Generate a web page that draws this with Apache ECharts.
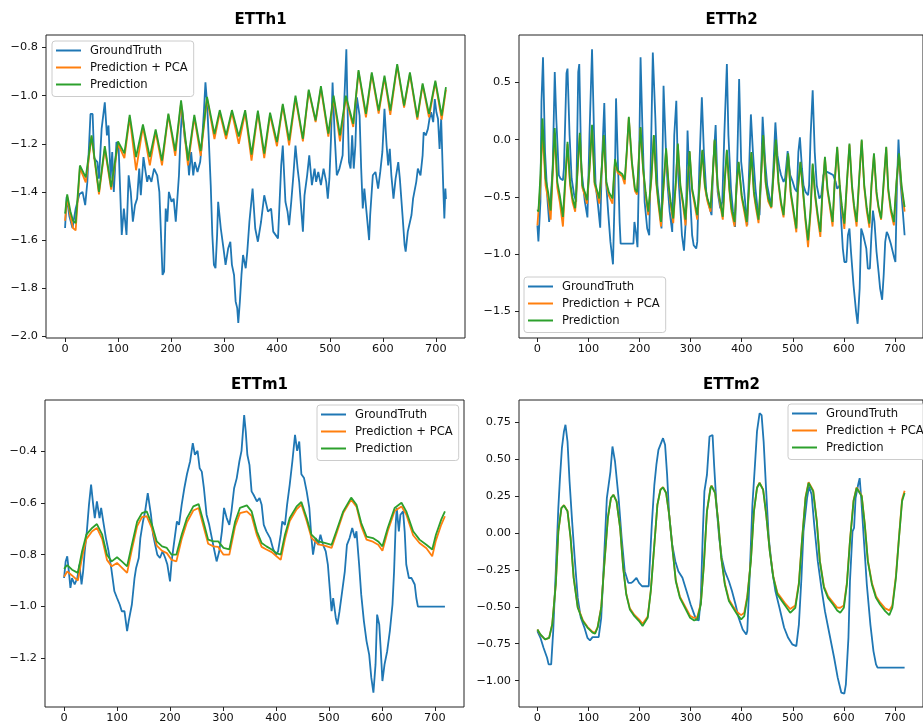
<!DOCTYPE html>
<html><head><meta charset="utf-8">
<script src="https://cdn.jsdelivr.net/npm/echarts@6/dist/echarts.min.js"></script>
<style>html,body{margin:0;padding:0;background:#fff}#c{width:923px;height:727px}</style>
</head><body><div id="c"></div><script>
const seriesNames = ['GroundTruth', 'Prediction + PCA', 'Prediction'];
const panelTitles = ['ETTh1', 'ETTh2', 'ETTm1', 'ETTm2'];
const xTicks = [0, 100, 200, 300, 400, 500, 600, 700];
const h1YTicks = [-2.0, -1.8, -1.6, -1.4, -1.2, -1.0, -0.8];
const h2YTicks = [-1.5, -1.0, -0.5, 0.0, 0.5];
const m1YTicks = [-1.2, -1.0, -0.8, -0.6, -0.4];
const m2YTicks = [-1.0, -0.75, -0.5, -0.25, 0.0, 0.25, 0.5, 0.75];

// ---------- ETTh1 ----------
const h1Truth = [[0,-1.55],[3,-1.42],[8,-1.50],[14,-1.55],[20,-1.47],[27,-1.41],[33,-1.40],[38,-1.455],[42,-1.36],[48,-1.076],[52,-1.076],[55,-1.26],[61,-1.276],[64,-1.345],[69,-1.138],[75,-1.028],[79,-1.165],[82,-1.124],[86,-1.345],[89,-1.234],[92,-1.40],[97,-1.193],[101,-1.207],[103,-1.331],[107,-1.579],[111,-1.469],[116,-1.579],[120,-1.331],[124,-1.40],[128,-1.524],[132,-1.455],[136,-1.428],[140,-1.303],[143,-1.414],[148,-1.255],[152,-1.317],[155,-1.358],[158,-1.331],[163,-1.358],[168,-1.303],[174,-1.331],[178,-1.40],[184,-1.745],[187,-1.731],[190,-1.469],[193,-1.524],[196,-1.40],[201,-1.441],[205,-1.428],[209,-1.524],[212,-1.524],[215,-1.331],[218,-1.165],[221,-1.055],[226,-1.179],[231,-1.234],[234,-1.331],[238,-1.234],[242,-1.331],[245,-1.276],[250,-1.317],[255,-1.276],[258,-1.207],[262,-1.069],[265,-0.945],[268,-1.028],[271,-1.165],[275,-1.372],[278,-1.579],[281,-1.703],[284,-1.717],[287,-1.579],[289,-1.441],[294,-1.552],[299,-1.634],[303,-1.703],[308,-1.634],[312,-1.607],[315,-1.703],[319,-1.745],[322,-1.855],[325,-1.883],[327,-1.944],[330,-1.855],[333,-1.745],[336,-1.662],[341,-1.717],[344,-1.648],[348,-1.524],[354,-1.386],[359,-1.552],[364,-1.607],[370,-1.524],[376,-1.414],[383,-1.482],[389,-1.469],[393,-1.565],[402,-1.593],[405,-1.441],[408,-1.29],[411,-1.207],[416,-1.441],[420,-1.482],[423,-1.538],[427,-1.441],[431,-1.331],[435,-1.207],[439,-1.303],[442,-1.358],[449,-1.565],[452,-1.414],[457,-1.331],[461,-1.248],[466,-1.372],[471,-1.303],[474,-1.358],[478,-1.317],[483,-1.372],[488,-1.303],[493,-1.358],[496,-1.428],[499,-1.345],[502,-1.179],[505,-0.945],[509,-1.165],[513,-1.331],[518,-1.303],[524,-1.248],[527,-1.028],[531,-0.807],[533,-1.028],[536,-1.276],[539,-1.303],[542,-1.165],[545,-1.303],[548,-1.207],[551,-1.007],[556,-1.083],[559,-1.303],[562,-1.469],[565,-1.386],[569,-1.482],[574,-1.60],[576,-1.496],[581,-1.331],[586,-1.317],[591,-1.386],[595,-1.317],[599,-1.234],[603,-1.055],[607,-1.207],[610,-1.29],[613,-1.221],[616,-1.331],[620,-1.428],[624,-1.345],[629,-1.276],[632,-1.345],[637,-1.496],[641,-1.621],[643,-1.648],[647,-1.565],[654,-1.496],[657,-1.428],[663,-1.358],[666,-1.303],[671,-1.331],[675,-1.248],[677,-1.152],[681,-1.165],[685,-1.138],[688,-1.096],[691,-1.069],[695,-1.11],[698,-1.014],[701,-1.069],[704,-1.096],[707,-1.221],[710,-1.096],[714,-1.386],[716,-1.51],[718,-1.386],[719,-1.43]];
const h1PCA = [[0,-1.52],[4,-1.42],[10,-1.50],[15,-1.55],[20,-1.56],[28,-1.30],[39,-1.36],[50,-1.17],[64,-1.41],[75,-1.22],[87,-1.39],[100,-1.20],[112,-1.26],[122,-1.09],[134,-1.31],[147,-1.13],[160,-1.29],[171,-1.15],[183,-1.29],[195,-1.08],[208,-1.25],[219,-1.03],[232,-1.29],[244,-1.09],[256,-1.25],[268,-1.01],[282,-1.18],[292,-1.07],[304,-1.18],[315,-1.07],[328,-1.20],[340,-1.07],[352,-1.27],[364,-1.07],[376,-1.26],[387,-1.08],[400,-1.21],[411,-1.04],[423,-1.207],[435,-1.01],[449,-1.19],[460,-0.98],[473,-1.11],[483,-0.97],[497,-1.17],[507,-1.01],[519,-1.19],[530,-1.01],[544,-1.13],[554,-0.90],[568,-1.09],[579,-0.91],[592,-1.075],[603,-0.925],[614,-1.08],[627,-0.875],[640,-1.05],[651,-0.91],[665,-1.10],[675,-0.955],[687,-1.09],[699,-0.945],[711,-1.10],[719,-0.975]];
const h1Pred = [[0,-1.49],[4,-1.41],[10,-1.48],[15,-1.52],[20,-1.53],[28,-1.29],[39,-1.34],[50,-1.165],[64,-1.40],[75,-1.21],[87,-1.38],[100,-1.19],[112,-1.24],[122,-1.08],[134,-1.255],[147,-1.12],[160,-1.255],[171,-1.14],[183,-1.27],[195,-1.075],[208,-1.23],[219,-1.02],[232,-1.27],[244,-1.08],[256,-1.23],[268,-1.005],[282,-1.16],[292,-1.06],[304,-1.165],[315,-1.06],[328,-1.17],[340,-1.06],[352,-1.245],[364,-1.062],[376,-1.241],[387,-1.071],[400,-1.193],[411,-1.034],[423,-1.186],[435,-1.0],[449,-1.179],[460,-0.975],[473,-1.103],[483,-0.961],[497,-1.158],[507,-1.0],[519,-1.165],[530,-1.0],[544,-1.117],[554,-0.894],[568,-1.076],[579,-0.903],[592,-1.062],[603,-0.917],[614,-1.062],[627,-0.869],[640,-1.041],[651,-0.903],[665,-1.09],[675,-0.949],[687,-1.076],[699,-0.938],[711,-1.083],[719,-0.965]];

// ---------- ETTh2 ----------
const h2Truth = [[0,-0.75],[2,-0.89],[6,-0.54],[8,0.33],[11,0.72],[15,-0.11],[20,-0.54],[23,-0.72],[26,-0.72],[30,-0.25],[34,0.59],[37,0.185],[42,-0.31],[45,-0.34],[50,-0.355],[52,-0.25],[57,0.58],[59,0.62],[63,0.04],[67,-0.34],[72,-0.486],[76,-0.544],[80,0.59],[82,0.66],[86,-0.25],[93,-0.544],[98,-0.68],[102,0.04],[107,0.79],[111,0.04],[114,-0.40],[118,-0.544],[123,-0.77],[126,-0.25],[131,0.32],[135,-0.40],[139,-0.66],[143,-0.894],[148,-1.09],[151,-0.544],[154,0.36],[158,-0.25],[161,-0.72],[163,-0.91],[188,-0.91],[190,-0.72],[193,-0.81],[196,-0.94],[199,-0.25],[202,0.72],[206,0.04],[210,-0.544],[215,-0.777],[219,-0.836],[223,0.04],[226,0.76],[231,0.185],[235,-0.40],[239,-0.573],[243,-0.777],[247,0.47],[252,-0.136],[255,-0.40],[259,-0.63],[264,-0.807],[268,0.04],[272,0.34],[275,-0.25],[280,-0.60],[283,-0.836],[287,-0.97],[291,-0.675],[294,0.08],[298,-0.40],[303,-0.836],[306,-0.923],[311,-0.952],[313,-0.894],[317,-0.25],[322,0.37],[326,-0.107],[331,-0.486],[336,-0.573],[341,-0.66],[344,-0.25],[349,0.127],[353,-0.457],[358,-0.60],[362,-0.544],[366,0.04],[371,0.66],[374,0.04],[379,-0.43],[383,-0.63],[387,-0.763],[391,-0.25],[395,0.53],[399,-0.194],[403,-0.37],[408,-0.60],[411,-0.748],[415,-0.194],[418,0.22],[422,-0.107],[427,-0.43],[431,-0.60],[435,-0.66],[438,-0.31],[441,0.20],[446,-0.194],[450,-0.40],[455,-0.515],[458,-0.588],[462,-0.25],[466,0.15],[470,-0.136],[474,-0.25],[477,-0.31],[482,-0.37],[485,-0.34],[490,-0.10],[495,-0.31],[500,-0.37],[504,-0.43],[508,-0.457],[511,-0.107],[514,0.02],[518,-0.25],[521,-0.40],[525,-0.457],[530,-0.486],[532,-0.40],[535,0.04],[539,0.43],[543,-0.107],[547,-0.40],[552,-0.515],[556,-0.486],[560,-0.31],[566,-0.28],[573,-0.295],[579,-0.31],[584,-0.37],[587,-0.43],[592,-0.40],[595,-0.72],[598,-0.952],[601,-1.07],[605,-1.07],[608,-0.836],[611,-0.777],[614,-0.98],[619,-1.273],[624,-1.506],[627,-1.61],[631,-1.30],[634,-0.777],[638,-0.836],[641,-0.894],[644,-0.952],[647,-1.127],[651,-1.127],[654,-0.836],[657,-0.62],[660,-0.72],[664,-0.98],[668,-1.156],[671,-1.30],[675,-1.40],[678,-1.186],[681,-0.894],[684,-0.807],[687,-0.836],[692,-0.91],[695,-0.923],[699,-1.04],[701,-1.07],[704,-0.40],[707,0.0],[711,-0.37],[715,-0.60],[719,-0.836]];
const h2PCA = [[0,-0.75],[2,-0.76],[6,-0.40],[10,0.09],[16,-0.40],[21,-0.52],[26,-0.70],[30,-0.30],[34,0.06],[39,-0.42],[44,-0.55],[50,-0.76],[55,-0.36],[59,-0.04],[64,-0.40],[69,-0.55],[74,-0.63],[78,-0.33],[83,0.04],[88,-0.42],[93,-0.49],[97,-0.56],[102,-0.27],[107,0.11],[112,-0.39],[118,-0.49],[121,-0.56],[126,-0.27],[130,0.03],[135,-0.39],[140,-0.49],[147,-0.56],[152,-0.19],[157,-0.29],[166,-0.32],[171,-0.39],[175,-0.12],[179,0.19],[185,-0.21],[191,-0.45],[195,-0.48],[202,0.10],[207,-0.27],[212,-0.49],[217,-0.66],[223,-0.36],[228,0.03],[233,-0.39],[237,-0.57],[242,-0.76],[247,-0.42],[252,-0.09],[257,-0.42],[261,-0.57],[266,-0.73],[271,-0.39],[275,-0.045],[280,-0.42],[285,-0.57],[290,-0.75],[294,-0.42],[298,-0.11],[303,-0.45],[308,-0.57],[313,-0.70],[318,-0.39],[323,-0.10],[328,-0.42],[333,-0.54],[339,-0.63],[344,-0.27],[347,-0.01],[353,-0.42],[358,-0.57],[363,-0.70],[367,-0.36],[371,-0.10],[376,-0.45],[380,-0.63],[386,-0.76],[390,-0.42],[394,-0.20],[400,-0.51],[405,-0.63],[410,-0.76],[415,-0.39],[419,-0.12],[424,-0.48],[428,-0.60],[433,-0.73],[438,-0.33],[442,0.03],[447,-0.39],[452,-0.54],[458,-0.60],[463,-0.27],[467,-0.01],[472,-0.39],[477,-0.57],[482,-0.68],[487,-0.36],[491,-0.13],[496,-0.48],[502,-0.66],[507,-0.81],[510,-0.45],[515,-0.20],[521,-0.51],[525,-0.72],[530,-0.94],[535,-0.63],[539,-0.22],[544,-0.51],[549,-0.69],[554,-0.85],[558,-0.48],[563,-0.16],[568,-0.45],[573,-0.60],[578,-0.76],[582,-0.39],[587,-0.07],[592,-0.42],[596,-0.60],[601,-0.78],[606,-0.39],[611,-0.045],[616,-0.42],[620,-0.60],[625,-0.76],[630,-0.36],[635,-0.01],[640,-0.42],[645,-0.63],[650,-0.77],[654,-0.42],[659,-0.13],[664,-0.48],[668,-0.60],[673,-0.70],[678,-0.39],[683,-0.07],[687,-0.45],[692,-0.63],[698,-0.75],[703,-0.39],[708,-0.13],[713,-0.42],[719,-0.63]];
const h2Pred = [[0,-0.61],[2,-0.63],[6,-0.31],[10,0.185],[16,-0.34],[21,-0.46],[26,-0.62],[30,-0.25],[34,0.10],[39,-0.37],[44,-0.49],[50,-0.675],[55,-0.31],[59,-0.02],[64,-0.37],[69,-0.515],[74,-0.60],[78,-0.31],[83,0.06],[88,-0.40],[93,-0.46],[97,-0.53],[102,-0.25],[107,0.13],[112,-0.37],[118,-0.46],[121,-0.515],[126,-0.25],[130,0.04],[135,-0.37],[140,-0.46],[147,-0.515],[152,-0.17],[157,-0.27],[166,-0.30],[171,-0.35],[175,-0.10],[179,0.20],[185,-0.19],[191,-0.43],[195,-0.46],[202,0.11],[207,-0.25],[212,-0.46],[217,-0.63],[223,-0.34],[228,0.04],[233,-0.37],[237,-0.54],[242,-0.72],[247,-0.40],[252,-0.077],[257,-0.40],[261,-0.54],[266,-0.69],[271,-0.37],[275,-0.034],[280,-0.40],[285,-0.54],[290,-0.70],[294,-0.40],[298,-0.10],[303,-0.43],[308,-0.54],[313,-0.66],[318,-0.37],[323,-0.09],[328,-0.40],[333,-0.515],[339,-0.60],[344,-0.25],[347,0.0],[353,-0.40],[358,-0.544],[363,-0.675],[367,-0.34],[371,-0.09],[376,-0.43],[380,-0.60],[386,-0.72],[390,-0.40],[394,-0.194],[400,-0.486],[405,-0.60],[410,-0.72],[415,-0.37],[419,-0.11],[424,-0.457],[428,-0.573],[433,-0.70],[438,-0.31],[442,0.04],[447,-0.37],[452,-0.515],[458,-0.588],[463,-0.25],[467,0.0],[472,-0.37],[477,-0.544],[482,-0.66],[487,-0.34],[491,-0.12],[496,-0.457],[502,-0.63],[507,-0.777],[510,-0.43],[515,-0.194],[521,-0.486],[525,-0.69],[530,-0.88],[535,-0.60],[539,-0.21],[544,-0.486],[549,-0.66],[554,-0.807],[558,-0.457],[563,-0.15],[568,-0.43],[573,-0.573],[578,-0.72],[582,-0.37],[587,-0.063],[592,-0.40],[596,-0.573],[601,-0.734],[606,-0.37],[611,-0.034],[616,-0.40],[620,-0.573],[625,-0.72],[630,-0.34],[635,0.0],[640,-0.40],[645,-0.60],[650,-0.734],[654,-0.40],[659,-0.12],[664,-0.457],[668,-0.588],[673,-0.69],[678,-0.37],[683,-0.063],[687,-0.43],[692,-0.60],[698,-0.72],[703,-0.37],[708,-0.12],[713,-0.40],[719,-0.59]];

// ---------- ETTm1 ----------
const m1Truth = [[0,-0.89],[3,-0.826],[6,-0.806],[9,-0.864],[12,-0.928],[15,-0.89],[20,-0.915],[25,-0.89],[29,-0.838],[33,-0.915],[36,-0.864],[39,-0.787],[43,-0.71],[47,-0.608],[51,-0.53],[55,-0.608],[58,-0.659],[62,-0.595],[67,-0.659],[70,-0.62],[75,-0.685],[79,-0.736],[84,-0.787],[89,-0.851],[95,-0.941],[100,-0.967],[105,-0.992],[109,-1.018],[114,-1.018],[119,-1.095],[122,-1.056],[125,-1.056],[128,-0.992],[133,-0.89],[136,-0.851],[141,-0.813],[144,-0.736],[149,-0.672],[153,-0.633],[158,-0.563],[161,-0.57],[164,-0.646],[168,-0.723],[172,-0.762],[176,-0.80],[181,-0.813],[186,-0.787],[191,-0.813],[195,-0.838],[200,-0.903],[203,-0.826],[208,-0.749],[213,-0.672],[217,-0.685],[222,-0.608],[227,-0.544],[232,-0.49],[238,-0.44],[243,-0.37],[247,-0.415],[252,-0.40],[256,-0.467],[260,-0.48],[264,-0.544],[269,-0.646],[274,-0.685],[279,-0.736],[284,-0.787],[288,-0.826],[293,-0.787],[298,-0.71],[302,-0.62],[307,-0.659],[312,-0.685],[316,-0.633],[321,-0.544],[326,-0.505],[331,-0.44],[335,-0.40],[340,-0.262],[343,-0.326],[346,-0.415],[350,-0.454],[354,-0.556],[358,-0.57],[364,-0.595],[369,-0.582],[373,-0.608],[377,-0.685],[382,-0.71],[389,-0.736],[395,-0.78],[400,-0.80],[404,-0.787],[409,-0.723],[412,-0.672],[417,-0.685],[421,-0.608],[426,-0.53],[431,-0.44],[436,-0.338],[440,-0.40],[444,-0.364],[448,-0.49],[453,-0.505],[458,-0.556],[463,-0.62],[467,-0.736],[470,-0.80],[475,-0.736],[480,-0.762],[484,-0.723],[489,-0.762],[494,-0.787],[498,-0.838],[502,-0.941],[505,-1.018],[508,-0.967],[513,-1.044],[516,-1.069],[520,-1.018],[525,-0.941],[530,-0.864],[534,-0.762],[539,-0.736],[544,-0.697],[549,-0.736],[552,-0.71],[557,-0.838],[561,-0.954],[566,-1.056],[571,-1.133],[576,-1.185],[580,-1.274],[584,-1.332],[588,-1.223],[591,-1.031],[595,-1.069],[598,-1.172],[601,-1.287],[605,-1.223],[610,-1.172],[615,-1.095],[620,-0.992],[623,-0.864],[626,-0.685],[628,-0.62],[632,-0.71],[635,-0.646],[640,-0.633],[643,-0.71],[646,-0.838],[651,-0.89],[656,-0.89],[662,-0.915],[665,-0.967],[668,-1.0],[719,-1.0]];
const m1PCA = [[0,-0.885],[6,-0.865],[15,-0.88],[26,-0.90],[34,-0.81],[42,-0.74],[53,-0.71],[62,-0.697],[72,-0.74],[81,-0.82],[90,-0.845],[100,-0.832],[109,-0.85],[119,-0.87],[128,-0.78],[138,-0.69],[147,-0.655],[156,-0.652],[166,-0.70],[175,-0.765],[185,-0.785],[194,-0.794],[203,-0.82],[212,-0.826],[222,-0.74],[232,-0.675],[244,-0.63],[254,-0.62],[263,-0.69],[272,-0.758],[282,-0.768],[291,-0.77],[301,-0.80],[312,-0.80],[323,-0.69],[332,-0.64],[345,-0.633],[354,-0.65],[364,-0.725],[373,-0.77],[382,-0.78],[392,-0.79],[401,-0.806],[409,-0.82],[417,-0.74],[426,-0.67],[439,-0.625],[448,-0.607],[458,-0.67],[467,-0.735],[480,-0.76],[492,-0.765],[505,-0.774],[514,-0.72],[527,-0.64],[542,-0.588],[552,-0.615],[561,-0.69],[571,-0.742],[583,-0.75],[593,-0.762],[601,-0.785],[611,-0.71],[624,-0.632],[637,-0.614],[646,-0.645],[659,-0.725],[671,-0.755],[684,-0.775],[695,-0.806],[702,-0.745],[712,-0.685],[719,-0.652]];
const m1Pred = [[0,-0.855],[6,-0.84],[15,-0.858],[26,-0.87],[34,-0.787],[42,-0.723],[53,-0.697],[62,-0.682],[72,-0.723],[81,-0.80],[90,-0.826],[100,-0.81],[109,-0.826],[119,-0.845],[128,-0.762],[138,-0.672],[147,-0.64],[156,-0.633],[166,-0.685],[175,-0.749],[185,-0.768],[194,-0.774],[203,-0.80],[212,-0.80],[222,-0.723],[232,-0.659],[244,-0.614],[254,-0.605],[263,-0.672],[272,-0.742],[282,-0.749],[291,-0.749],[301,-0.774],[312,-0.78],[323,-0.672],[332,-0.62],[345,-0.61],[354,-0.633],[364,-0.71],[373,-0.755],[382,-0.768],[392,-0.78],[401,-0.794],[409,-0.80],[417,-0.723],[426,-0.659],[439,-0.614],[448,-0.597],[458,-0.659],[467,-0.723],[480,-0.749],[492,-0.755],[505,-0.762],[514,-0.71],[527,-0.633],[542,-0.58],[552,-0.608],[561,-0.678],[571,-0.73],[583,-0.736],[593,-0.749],[601,-0.768],[611,-0.697],[624,-0.62],[637,-0.60],[646,-0.633],[659,-0.71],[671,-0.742],[684,-0.762],[695,-0.78],[702,-0.723],[712,-0.665],[719,-0.633]];

// ---------- ETTm2 ----------
const m2Truth = [[0,-0.664],[6,-0.71],[12,-0.777],[19,-0.845],[22,-0.89],[27,-0.89],[31,-0.664],[36,-0.258],[41,0.17],[44,0.362],[48,0.576],[52,0.69],[55,0.735],[59,0.621],[63,0.35],[68,0.08],[73,-0.168],[79,-0.439],[85,-0.574],[92,-0.64],[98,-0.71],[103,-0.727],[108,-0.705],[120,-0.705],[125,-0.574],[130,-0.213],[136,0.238],[143,0.418],[147,0.588],[152,0.486],[159,0.238],[165,-0.033],[171,-0.258],[178,-0.337],[184,-0.337],[188,-0.326],[194,-0.303],[199,-0.337],[205,-0.36],[218,-0.36],[220,-0.213],[224,0.058],[229,0.328],[233,0.464],[237,0.565],[241,0.6],[246,0.644],[250,0.6],[254,0.396],[258,0.125],[264,-0.078],[270,-0.19],[276,-0.258],[284,-0.303],[292,-0.393],[300,-0.484],[307,-0.551],[311,-0.585],[316,-0.592],[320,-0.439],[324,0.012],[327,0.283],[332,0.396],[337,0.655],[343,0.666],[346,0.464],[351,0.17],[356,-0.033],[361,-0.168],[367,-0.258],[375,-0.326],[381,-0.393],[388,-0.484],[394,-0.574],[402,-0.653],[409,-0.687],[411,-0.664],[416,-0.258],[421,0.193],[426,0.464],[430,0.69],[435,0.813],[439,0.80],[443,0.621],[448,0.283],[453,-0.033],[460,-0.258],[466,-0.393],[474,-0.506],[483,-0.64],[491,-0.71],[499,-0.754],[502,-0.766],[507,-0.766],[512,-0.62],[517,-0.303],[521,0.012],[528,0.238],[532,0.317],[537,0.26],[542,0.058],[549,-0.19],[556,-0.37],[563,-0.529],[572,-0.687],[581,-0.845],[588,-0.98],[595,-1.081],[601,-1.088],[604,-1.025],[609,-0.71],[612,-0.326],[617,0.012],[620,0.035],[623,0.238],[628,0.328],[631,0.373],[634,0.238],[639,-0.033],[645,-0.348],[652,-0.62],[658,-0.80],[663,-0.89],[666,-0.912],[719,-0.912]];
const m2PCA = [[0,-0.653],[6,-0.69],[15,-0.72],[23,-0.71],[29,-0.62],[36,-0.348],[41,0.012],[47,0.17],[52,0.19],[59,0.15],[65,-0.03],[71,-0.3],[79,-0.5],[89,-0.59],[98,-0.635],[108,-0.67],[113,-0.675],[118,-0.635],[125,-0.5],[131,-0.213],[138,0.103],[144,0.238],[149,0.26],[155,0.216],[162,0.035],[168,-0.236],[174,-0.41],[181,-0.51],[190,-0.555],[199,-0.585],[206,-0.615],[209,-0.62],[216,-0.565],[222,-0.39],[229,-0.078],[235,0.193],[241,0.296],[246,0.312],[252,0.274],[258,0.127],[265,-0.12],[271,-0.32],[279,-0.43],[289,-0.495],[299,-0.56],[307,-0.575],[313,-0.57],[320,-0.475],[326,-0.21],[332,0.15],[339,0.308],[341,0.322],[348,0.274],[354,0.082],[360,-0.165],[367,-0.34],[375,-0.45],[383,-0.495],[391,-0.535],[399,-0.556],[405,-0.54],[411,-0.425],[418,-0.185],[424,0.15],[430,0.31],[435,0.342],[442,0.296],[448,0.127],[455,-0.12],[462,-0.295],[470,-0.405],[479,-0.447],[486,-0.48],[495,-0.515],[498,-0.517],[505,-0.49],[512,-0.335],[518,-0.05],[525,0.245],[531,0.345],[534,0.352],[540,0.29],[547,0.085],[553,-0.185],[561,-0.36],[569,-0.427],[579,-0.47],[587,-0.505],[593,-0.506],[600,-0.49],[606,-0.335],[612,-0.05],[619,0.222],[625,0.31],[628,0.314],[635,0.255],[641,0.062],[647,-0.185],[655,-0.338],[663,-0.427],[671,-0.47],[681,-0.51],[689,-0.524],[695,-0.49],[702,-0.29],[708,-0.025],[714,0.228],[719,0.288]];
const m2Pred = [[0,-0.653],[6,-0.687],[15,-0.72],[23,-0.71],[29,-0.62],[36,-0.348],[41,0.012],[47,0.17],[52,0.188],[59,0.148],[65,-0.033],[71,-0.303],[79,-0.506],[89,-0.596],[98,-0.64],[108,-0.675],[113,-0.682],[118,-0.64],[125,-0.506],[131,-0.213],[138,0.103],[144,0.238],[149,0.26],[155,0.216],[162,0.035],[168,-0.236],[174,-0.416],[181,-0.517],[190,-0.563],[199,-0.596],[206,-0.63],[209,-0.635],[216,-0.574],[222,-0.393],[229,-0.078],[235,0.193],[241,0.294],[246,0.31],[252,0.272],[258,0.125],[265,-0.123],[271,-0.326],[279,-0.439],[289,-0.506],[299,-0.574],[307,-0.592],[313,-0.585],[320,-0.484],[326,-0.213],[332,0.148],[339,0.306],[341,0.32],[348,0.272],[354,0.08],[360,-0.168],[367,-0.348],[375,-0.461],[383,-0.506],[391,-0.551],[399,-0.585],[405,-0.563],[411,-0.439],[418,-0.19],[424,0.148],[430,0.306],[435,0.34],[442,0.294],[448,0.125],[455,-0.123],[462,-0.303],[470,-0.416],[479,-0.461],[486,-0.495],[495,-0.54],[498,-0.547],[505,-0.506],[512,-0.348],[518,-0.055],[525,0.238],[531,0.34],[534,0.346],[540,0.283],[547,0.08],[553,-0.19],[561,-0.37],[569,-0.439],[579,-0.484],[587,-0.524],[593,-0.54],[600,-0.506],[606,-0.348],[612,-0.055],[619,0.216],[625,0.306],[628,0.31],[635,0.25],[641,0.058],[647,-0.19],[655,-0.348],[663,-0.439],[671,-0.484],[681,-0.529],[689,-0.556],[695,-0.506],[702,-0.303],[708,-0.033],[714,0.216],[719,0.272]];

// ---------- layout / styling ----------
const colors = ['#1f77b4', '#ff7f0e', '#2ca02c'];
const FONT = 'DejaVu Sans';
const panels = [
  {grid: {left: 46, top: 35, width: 419, height: 303}, x: [-36, 755], y: [-2.007, -0.748], yt: h1YTicks, dec: 1,
   data: [h1Truth, h1PCA, h1Pred], legend: {left: 52, top: 41}},
  {grid: {left: 519, top: 35, width: 415, height: 303}, x: [-36, 755], y: [-1.734, 0.914], yt: h2YTicks, dec: 1,
   data: [h2Truth, h2PCA, h2Pred], legend: {left: 524, top: 277}},
  {grid: {left: 45, top: 400, width: 419, height: 307}, x: [-36, 755], y: [-1.387, -0.204], yt: m1YTicks, dec: 1,
   data: [m1Truth, m1PCA, m1Pred], legend: {left: 317, top: 405}},
  {grid: {left: 519, top: 400, width: 415, height: 307}, x: [-36, 755], y: [-1.179, 0.903], yt: m2YTicks, dec: 2,
   data: [m2Truth, m2PCA, m2Pred], legend: {left: 788, top: 404}}
];
function fmt(v, d) { const s = Math.abs(v).toFixed(d); return (v < 0 && Number(s) !== 0 ? '\u2212' : '') + s; }

const option = {animation: false, backgroundColor: '#fff', title: [], grid: [], xAxis: [], yAxis: [], series: [], legend: []};
panels.forEach((p, i) => {
  option.title.push({text: panelTitles[i], left: p.grid.left + p.grid.width / 2, top: p.grid.top - 27, textAlign: 'center',
    textStyle: {fontFamily: FONT, fontWeight: 'bold', fontSize: 15, color: '#000'}});
  option.grid.push(Object.assign({show: true, borderColor: '#222', borderWidth: 1, backgroundColor: 'transparent', containLabel: false}, p.grid));
  option.xAxis.push({type: 'value', gridIndex: i, min: p.x[0], max: p.x[1], position: 'bottom',
    axisLine: {show: false, onZero: false}, splitLine: {show: false},
    axisTick: {show: true, inside: false, length: 4, lineStyle: {color: '#222', width: 1}, customValues: xTicks},
    axisLabel: {customValues: xTicks, margin: 6, fontFamily: FONT, fontSize: 11.3, color: '#111', formatter: v => String(v)}});
  option.yAxis.push({type: 'value', gridIndex: i, min: p.y[0], max: p.y[1], position: 'left',
    axisLine: {show: false, onZero: false}, splitLine: {show: false},
    axisTick: {show: true, inside: false, length: 4, lineStyle: {color: '#222', width: 1}, customValues: p.yt},
    axisLabel: {customValues: p.yt, margin: 8, fontFamily: FONT, fontSize: 11.3, color: '#111', formatter: v => fmt(v, p.dec)}});
  p.data.forEach((d, k) => {
    option.series.push({type: 'line', name: seriesNames[k], xAxisIndex: i, yAxisIndex: i, data: d,
      showSymbol: false, symbol: 'none', clip: true, color: colors[k],
      lineStyle: {color: colors[k], width: 1.8}, emphasis: {disabled: true}});
  });
  option.legend.push({data: seriesNames, orient: 'vertical', left: p.legend.left, top: p.legend.top,
    selectedMode: false, icon: 'rect', itemWidth: 25, itemHeight: 2, itemGap: 5,
    padding: [3.5, 6, 6, 4], backgroundColor: 'rgba(255,255,255,0.8)', borderColor: '#cccccc', borderWidth: 1, borderRadius: 3,
    textStyle: {fontFamily: FONT, fontSize: 11.6, color: '#111', lineHeight: 12, padding: [0, 0, 0, 4]}});
});
const chart = echarts.init(document.getElementById('c'), null, {renderer: 'canvas'});
chart.setOption(option);
</script></body></html>
